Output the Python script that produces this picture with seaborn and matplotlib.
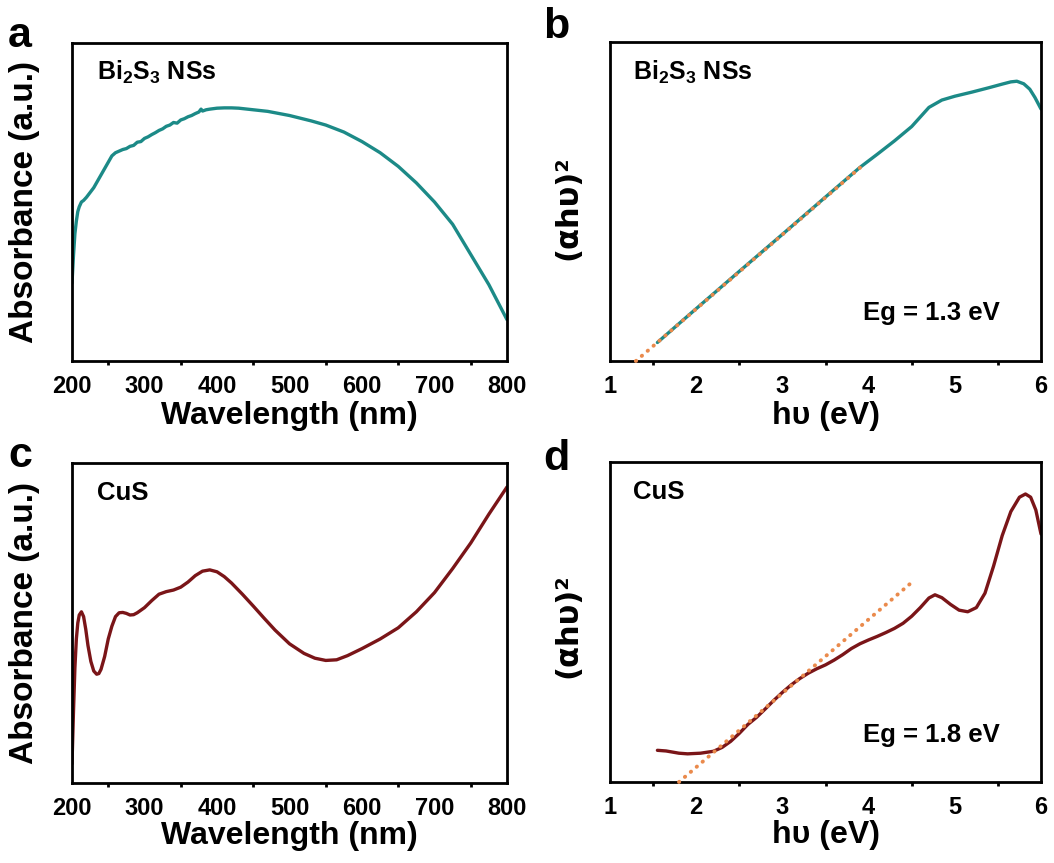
import numpy as np
import pandas as pd
import matplotlib
matplotlib.use("Agg")
import matplotlib.pyplot as plt
import seaborn as sns

# ---- UV-vis absorbance, Bi2S3 nanosheets ----
bi_wl = [200, 202, 204, 206, 208, 210, 213, 216, 220, 225, 230, 235, 240, 245,
         250, 255, 260, 265, 270, 275, 280, 285, 290, 295, 300, 305, 310, 315,
         320, 325, 330, 335, 340, 345, 350, 355, 360, 365, 370, 375, 378, 380,
         385, 390, 400, 410, 420, 430, 450, 470, 500, 530, 550, 575, 600, 625,
         650, 675, 700, 725, 750, 775, 800]
bi_abs = [0.245, 0.33, 0.40, 0.44, 0.47, 0.485, 0.50, 0.505, 0.515, 0.53, 0.545,
          0.565, 0.585, 0.605, 0.625, 0.645, 0.655, 0.66, 0.665, 0.668, 0.675,
          0.678, 0.688, 0.69, 0.70, 0.705, 0.712, 0.718, 0.725, 0.73, 0.738,
          0.742, 0.75, 0.748, 0.758, 0.762, 0.768, 0.772, 0.778, 0.783, 0.792,
          0.786, 0.79, 0.792, 0.795, 0.796, 0.796, 0.795, 0.79, 0.785, 0.772,
          0.755, 0.742, 0.72, 0.69, 0.655, 0.612, 0.56, 0.50, 0.43, 0.335,
          0.24, 0.13]

# ---- Tauc plot, Bi2S3 ----
bi_ev = [1.55, 1.8, 2.0, 2.5, 3.0, 3.5, 3.9, 4.1, 4.3, 4.5, 4.7, 4.85, 5.0, 5.2,
         5.4, 5.55, 5.65, 5.72, 5.8, 5.87, 5.93, 6.0]
bi_tauc = [0.058, 0.117, 0.164, 0.281, 0.397, 0.514, 0.607, 0.648, 0.69, 0.735,
           0.795, 0.818, 0.83, 0.843, 0.857, 0.868, 0.875, 0.877, 0.869, 0.852,
           0.826, 0.79]
bi_eg = 1.3
bi_fit_slope = 0.233
bi_fit_end = 3.9

# ---- UV-vis absorbance, CuS ----
cu_wl = [200, 202, 204, 206, 208, 210, 213, 216, 219, 222, 226, 230, 234, 237,
         240, 245, 250, 255, 260, 265, 270, 275, 280, 285, 290, 300, 310, 320,
         330, 340, 350, 360, 370, 380, 390, 400, 410, 420, 435, 450, 465, 480,
         500, 520, 535, 550, 565, 580, 600, 625, 650, 675, 700, 725, 750, 775,
         800]
cu_abs = [0.06, 0.22, 0.36, 0.45, 0.50, 0.525, 0.535, 0.52, 0.48, 0.43, 0.38,
          0.35, 0.34, 0.342, 0.355, 0.395, 0.45, 0.49, 0.52, 0.532, 0.533, 0.53,
          0.525, 0.526, 0.532, 0.548, 0.57, 0.59, 0.598, 0.603, 0.612, 0.628,
          0.648, 0.662, 0.666, 0.66, 0.645, 0.625, 0.59, 0.553, 0.515, 0.478,
          0.435, 0.405, 0.39, 0.383, 0.385, 0.398, 0.42, 0.45, 0.485, 0.535,
          0.595, 0.67, 0.75, 0.84, 0.925]

# ---- Tauc plot, CuS ----
cu_ev = [1.55, 1.65, 1.8, 1.9, 2.05, 2.2, 2.3, 2.4, 2.5, 2.6, 2.7, 2.8, 2.9, 3.0,
         3.1, 3.2, 3.3, 3.4, 3.5, 3.6, 3.7, 3.8, 3.9, 4.0, 4.1, 4.2, 4.3, 4.4,
         4.5, 4.6, 4.7, 4.77, 4.85, 4.95, 5.05, 5.15, 5.25, 5.35, 5.45, 5.55,
         5.65, 5.75, 5.82, 5.88, 5.94, 6.0]
cu_tauc = [0.099, 0.097, 0.09, 0.088, 0.09, 0.096, 0.108, 0.127, 0.152, 0.18,
           0.202, 0.228, 0.255, 0.28, 0.303, 0.323, 0.34, 0.354, 0.366, 0.381,
           0.398, 0.417, 0.432, 0.444, 0.455, 0.467, 0.48, 0.496, 0.518, 0.545,
           0.575, 0.585, 0.576, 0.555, 0.537, 0.532, 0.545, 0.59, 0.675, 0.77,
           0.845, 0.89, 0.9, 0.89, 0.85, 0.775]
cu_eg = 1.8
cu_fit_slope = 0.231
cu_fit_end = 4.48

TEAL = "#1c8a87"
WINE = "#7a1518"
ORANGE = "#ea8a4c"

sns.set_theme(style="white")
plt.rcParams["font.family"] = ["Liberation Sans", "DejaVu Sans"]
plt.rcParams["font.weight"] = "bold"
plt.rcParams["text.color"] = "black"
plt.rcParams["axes.labelcolor"] = "black"
plt.rcParams["xtick.color"] = "black"
plt.rcParams["ytick.color"] = "black"
plt.rcParams["mathtext.fontset"] = "custom"
plt.rcParams["mathtext.rm"] = "Liberation Sans:bold"
plt.rcParams["mathtext.it"] = "Liberation Sans:bold"
plt.rcParams["mathtext.bf"] = "Liberation Sans:bold"
plt.rcParams["mathtext.default"] = "regular"

fig = plt.figure(figsize=(10.54, 8.63), dpi=100)
fig.patch.set_facecolor("white")

W, H = 1054.0, 863.0


def box(l, t, r, b):
    return [l / W, 1 - b / H, (r - l) / W, (b - t) / H]


ax_a = fig.add_axes(box(72, 43, 507, 361))
ax_b = fig.add_axes(box(610, 42, 1041, 361))
ax_c = fig.add_axes(box(72, 463, 507, 783))
ax_d = fig.add_axes(box(610, 462, 1041, 782))


def style(ax, xlim, major, minor, xlabel, ylabel, ylpos, xly, yfamily, ysize):
    ax.set_xlim(*xlim)
    ax.set_ylim(0, 1)
    ax.set_xticks(np.arange(xlim[0], xlim[1] + 1e-9, major))
    ax.set_xticks(np.arange(xlim[0], xlim[1] + 1e-9, minor), minor=True)
    ax.set_yticks([])
    ax.tick_params(axis="x", which="major", direction="out", length=5,
                   width=2.2, color="black", pad=5, labelsize=17,
                   labelcolor="black")
    ax.tick_params(axis="x", which="minor", direction="out", length=3,
                   width=2.0, color="black", bottom=True)
    for lab in ax.get_xticklabels():
        lab.set_fontweight("bold")
    for sp in ax.spines.values():
        sp.set_visible(True)
        sp.set_linewidth(2.0)
        sp.set_color("black")
    ax.set_xlabel(xlabel, fontsize=23, fontweight="bold", color="black")
    ax.set_ylabel(ylabel, fontsize=ysize, fontweight="bold", color="black",
                  family=yfamily)
    ax.xaxis.set_label_coords(0.5, xly)
    ax.yaxis.set_label_coords(*ylpos)
    ax.grid(False)
    ax.set_facecolor("white")


def curve(ax, x, y, color):
    df = pd.DataFrame({"x": x, "y": y})
    sns.lineplot(data=df, x="x", y="y", ax=ax, color=color, linewidth=2.4,
                 sort=False, estimator=None, legend=False)


def tangent(ax, eg, slope, x_end):
    xs = np.array([eg, x_end])
    df = pd.DataFrame({"x": xs, "y": slope * (xs - eg)})
    sns.lineplot(data=df, x="x", y="y", ax=ax, color=ORANGE, linewidth=2.8,
                 linestyle=(0, (0.1, 1.9)), dash_capstyle="round",
                 estimator=None, legend=False, clip_on=False, zorder=5)


curve(ax_a, bi_wl, bi_abs, TEAL)
curve(ax_b, bi_ev, bi_tauc, TEAL)
tangent(ax_b, bi_eg, bi_fit_slope, bi_fit_end)
curve(ax_c, cu_wl, cu_abs, WINE)
curve(ax_d, cu_ev, cu_tauc, WINE)
tangent(ax_d, cu_eg, cu_fit_slope, cu_fit_end)

sans = ["Liberation Sans", "DejaVu Sans"]
wide = ["DejaVu Sans"]
style(ax_a, (200, 800), 100, 50, "Wavelength (nm)", "Absorbance (a.u.)",
      (-0.073, 0.5), -0.125, sans, 24)
style(ax_b, (1, 6), 1, 0.5, "hυ (eV)", "(αhυ)²", (-0.063, 0.48), -0.125, wide, 22)
style(ax_c, (200, 800), 100, 50, "Wavelength (nm)", "Absorbance (a.u.)",
      (-0.073, 0.5), -0.118, sans, 24)
style(ax_d, (1, 6), 1, 0.5, "hυ (eV)", "(αhυ)²", (-0.063, 0.49), -0.118, wide, 22)

# sample names and band-gap annotations
ax_a.text(0.057, 0.909, r"Bi$_2$S$_3$ NSs", transform=ax_a.transAxes,
          fontsize=18, fontweight="bold", va="center", ha="left")
ax_b.text(0.053, 0.906, r"Bi$_2$S$_3$ NSs", transform=ax_b.transAxes,
          fontsize=18, fontweight="bold", va="center", ha="left")
ax_c.text(0.057, 0.906, "CuS", transform=ax_c.transAxes,
          fontsize=18.5, fontweight="bold", va="center", ha="left")
ax_d.text(0.053, 0.906, "CuS", transform=ax_d.transAxes,
          fontsize=18.5, fontweight="bold", va="center", ha="left")
ax_b.text(0.587, 0.149, f"Eg = {bi_eg} eV", transform=ax_b.transAxes,
          fontsize=18.5, fontweight="bold", va="center", ha="left")
ax_d.text(0.587, 0.147, f"Eg = {cu_eg} eV", transform=ax_d.transAxes,
          fontsize=18.5, fontweight="bold", va="center", ha="left")

# panel letters
for letter, (px, py) in zip("abcd", [(8, 47), (543, 38), (8, 467), (543, 470)]):
    fig.text(px / W, 1 - py / H, letter, fontsize=31, fontweight="bold",
             ha="left", va="baseline")

fig.savefig("out.png", dpi=100, facecolor="white")
